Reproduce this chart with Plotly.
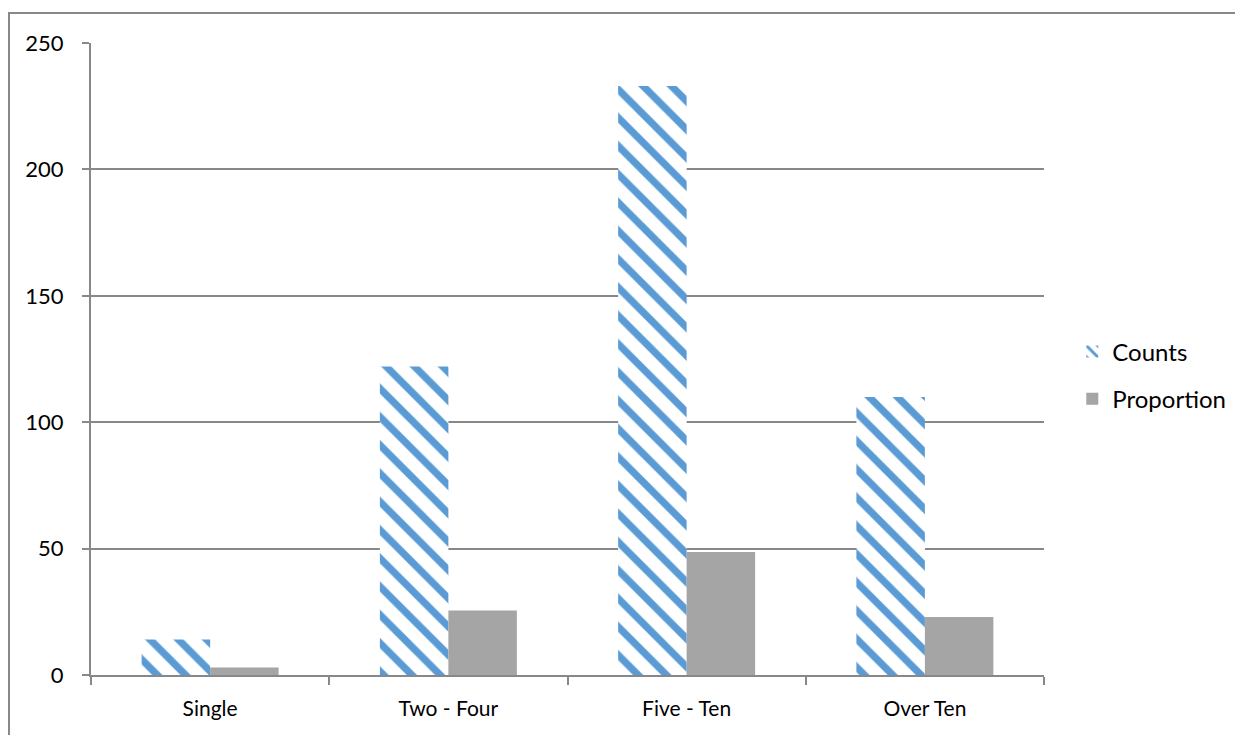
import plotly.graph_objects as go

categories = ["Single", "Two - Four", "Five - Ten", "Over Ten"]
counts = [14, 122, 233, 110]
proportion = [2.92, 25.47, 48.64, 22.96]
y_ticks = [0, 50, 100, 150, 200, 250]

FONT = "Lato, Open Sans, sans-serif"
GRID = "#888888"

# page has 8px body margin: figure origin lands at (8, 8)
W, H = 1235, 727
L, T, R, B = 83, 35, 199, 60
pw, ph = W - L - R, H - T - B

fig = go.Figure()
fig.add_trace(go.Bar(
    x=categories, y=counts, name="Counts", legendgroup="a",
    marker=dict(color="white", line=dict(width=0),
                pattern=dict(shape="\\", fgcolor="#5B9BD5", bgcolor="white",
                             fgopacity=1, size=20, solidity=0.36,
                             fillmode="replace")),
))
fig.add_trace(go.Bar(
    x=categories, y=proportion, name="Proportion", legendgroup="b",
    marker=dict(color="#A5A5A5", line=dict(width=0)),
))

fig.update_layout(
    width=W, height=H,
    margin=dict(l=L, r=R, t=T, b=B),
    paper_bgcolor="white", plot_bgcolor="white",
    barmode="group", bargap=0.425, bargroupgap=0,
    font=dict(family=FONT, size=22, color="black"),
    showlegend=True,
    legend=dict(x=1.0297, y=0.474, yanchor="middle", xanchor="left",
                font=dict(size=24), tracegroupgap=13, traceorder="grouped",
                itemwidth=30),
    xaxis=dict(showline=True, linecolor=GRID, linewidth=2,
               ticks="outside", tickson="boundaries", ticklen=8,
               tickcolor=GRID, tickwidth=2, showgrid=False,
               tickfont=dict(size=21), ticklabelstandoff=14),
    yaxis=dict(range=[0, 250], tickvals=y_ticks, showline=True,
               linecolor=GRID, linewidth=2, ticks="outside", ticklen=7,
               tickcolor=GRID, tickwidth=2, showgrid=True, gridcolor=GRID,
               gridwidth=1.5, zeroline=False, tickfont=dict(size=22),
               ticklabelstandoff=14),
    shapes=[dict(type="rect", xref="paper", yref="paper",
                 x0=(1 - L) / pw, x1=1.3, y0=-0.2, y1=(ph + T - 5) / ph,
                 line=dict(color=GRID, width=2), layer="below")],
)

fig.write_html("out.html")
